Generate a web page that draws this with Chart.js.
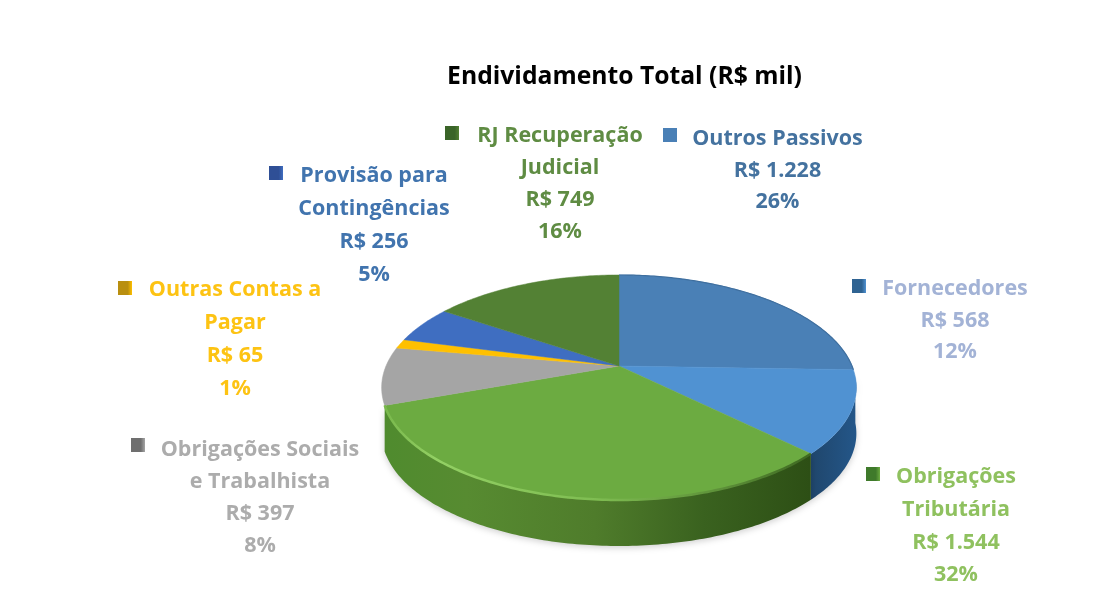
<!DOCTYPE html>
<html><head><meta charset="utf-8">
<style>html,body{margin:0;padding:0;background:#fff}#w{width:1109px;height:607px;filter:blur(.35px)}</style>
<script src="https://cdn.jsdelivr.net/npm/chart.js@4"></script></head>
<body><div id="w"><canvas id="c" width="1109" height="607"></canvas></div>
<script>
const categories = ["Outros Passivos","Fornecedores","Obrigações Tributária","Obrigações Sociais e Trabalhista","Outras Contas a Pagar","Provisão para Contingências","RJ Recuperação Judicial"];
const values = [1228,568,1544,397,65,256,749];
const valueLabels = ["R$ 1.228","R$ 568","R$ 1.544","R$ 397","R$ 65","R$ 256","R$ 749"];
const percentLabels = ["26%","12%","32%","8%","1%","5%","16%"];
const nameLines = [["Outros Passivos"],["Fornecedores"],["Obrigações","Tributária"],["Obrigações Sociais","e Trabalhista"],["Outras Contas a","Pagar"],["Provisão para","Contingências"],["RJ Recuperação","Judicial"]];
const sliceColors = ["#4a80b6","#5092d2","#6cab41","#a5a5a5","#ffc000","#3f6ec1","#538134"];
const textColors = ["#44729f","#a3b3d6","#8fc15f","#acacac","#fdc313","#4174ae","#5f8c43"];
const keyColors = ["#4a80b6","#2f6392","#3f7a2b","#6f6f6f","#b98f10","#2f4f96","#3a6428"];
const title = "Endividamento Total (R$ mil)";

// Placement of the hand-positioned data labels and of the projected disc
const labelPos = [
 {x:777.5,y:139,kx:670,ky:135,lh:31.5},{x:955,y:289,kx:859,ky:286,lh:31.5},
 {x:956,y:477,kx:873,ky:474,lh:32.7},{x:260,y:450,kx:138,ky:445,lh:32},
 {x:235,y:290,kx:125,ky:288,lh:33},{x:374,y:176,kx:276,ky:173,lh:33},
 {x:560,y:136,kx:452,ky:133,lh:32}];
const disc = {cx:619,cy:366,A:233,B:108.4,k:0.191,depth:46};
const proj = a => { const u=Math.cos(a),v=Math.sin(a),w=1-disc.k*v;
  return [disc.cx+disc.A*u/w, disc.cy+disc.B*v/w]; };

function rim(a0,a1){ const n=Math.max(2,Math.ceil(Math.abs(a1-a0)/0.015)),p=[];
  for(let i=0;i<=n;i++)p.push(proj(a0+(a1-a0)*i/n)); return p; }

const pie3d = {
  id:'pie3d',
  beforeDatasetDraw(chart){
    const c=chart.ctx, arcs=chart.getDatasetMeta(0).data, d=disc.depth;
    c.save();
    const wall = (a0,a1,fill)=>{ const p=rim(a0,a1); c.beginPath();
      p.forEach((q,i)=>i?c.lineTo(q[0],q[1]+d):c.moveTo(q[0],q[1]+d));
      p.reverse().forEach(q=>c.lineTo(q[0],q[1])); c.closePath(); c.fillStyle=fill; c.fill(); };
    const gGreen=c.createLinearGradient(381,0,810,0);
    [[0,'#4f8b2e'],[.2,'#578b31'],[.5,'#4f7c2b'],[.75,'#3a621f'],[1,'#2d4f15']].forEach(s=>gGreen.addColorStop(s[0],s[1]));
    const gBlue=c.createLinearGradient(805,0,858,0);
    gBlue.addColorStop(0,'#1f4468'); gBlue.addColorStop(1,'#24578a');
    const wallFill={1:gBlue,2:gGreen};
    c.shadowColor='rgba(0,0,0,.18)'; c.shadowBlur=6; c.shadowOffsetY=2;
    arcs.forEach((el,i)=>{ if(!wallFill[i]) return;
      const s=Math.max(el.startAngle,0.1); if(el.endAngle>s) wall(s,el.endAngle,wallFill[i]); });
    c.shadowColor='transparent';
    arcs.forEach((el,i)=>{ const p=rim(el.startAngle,el.endAngle); c.beginPath(); c.moveTo(disc.cx,disc.cy);
      p.forEach(q=>c.lineTo(q[0],q[1])); c.closePath();
      c.fillStyle=chart.data.datasets[0].backgroundColor[i]; c.fill();
      c.strokeStyle=c.fillStyle; c.lineWidth=.5; c.stroke(); });
    const g=arcs[2], hl=c.createLinearGradient(385,0,808,0);
    [[0,'#79b84c'],[.12,'#93d064'],[.5,'#7fbd52'],[.8,'#5c8f38'],[1,'#3f6a22']].forEach(s=>hl.addColorStop(s[0],s[1]));
    c.beginPath(); rim(g.startAngle,g.endAngle).forEach((q,i)=>i?c.lineTo(q[0],q[1]):c.moveTo(q[0],q[1]));
    c.strokeStyle=hl; c.lineWidth=2.5; c.stroke();
    const o=arcs[0]; c.beginPath(); rim(o.startAngle,o.endAngle).forEach((q,i)=>i?c.lineTo(q[0],q[1]):c.moveTo(q[0],q[1]));
    c.strokeStyle='#3f6f9f'; c.lineWidth=1.2; c.stroke();
    c.restore();
    return false;
  },
  afterDraw(chart){
    const c=chart.ctx; c.save();
    c.font='bold 21.5px "Open Sans"'; c.textAlign='center'; c.textBaseline='middle';
    categories.forEach((_,i)=>{ const P=labelPos[i];
      const lines=[...nameLines[i],valueLabels[i],percentLabels[i]];
      c.fillStyle=textColors[i];
      lines.forEach((t,j)=>c.fillText(t,P.x,P.y+j*P.lh));
      const g=c.createLinearGradient(P.kx-7,0,P.kx+7,0);
      g.addColorStop(0,keyColors[i]); g.addColorStop(.7,keyColors[i]); g.addColorStop(1,sliceColors[i]);
      c.fillStyle=g; c.fillRect(P.kx-7,P.ky-7,14,14);
    });
    c.restore();
  }
};

new Chart(document.getElementById('c'),{
  type:'pie',
  data:{labels:categories,datasets:[{data:values,backgroundColor:sliceColors,borderWidth:0}]},
  plugins:[pie3d],
  options:{responsive:false,animation:false,
    layout:{padding:{left:140,top:62}},
    plugins:{legend:{display:false},tooltip:{enabled:false},
      title:{display:true,text:title,fullSize:false,color:'#000',font:{family:'"Open Sans"',size:24.7,weight:'bold'},padding:0}}}
});
</script></body></html>
